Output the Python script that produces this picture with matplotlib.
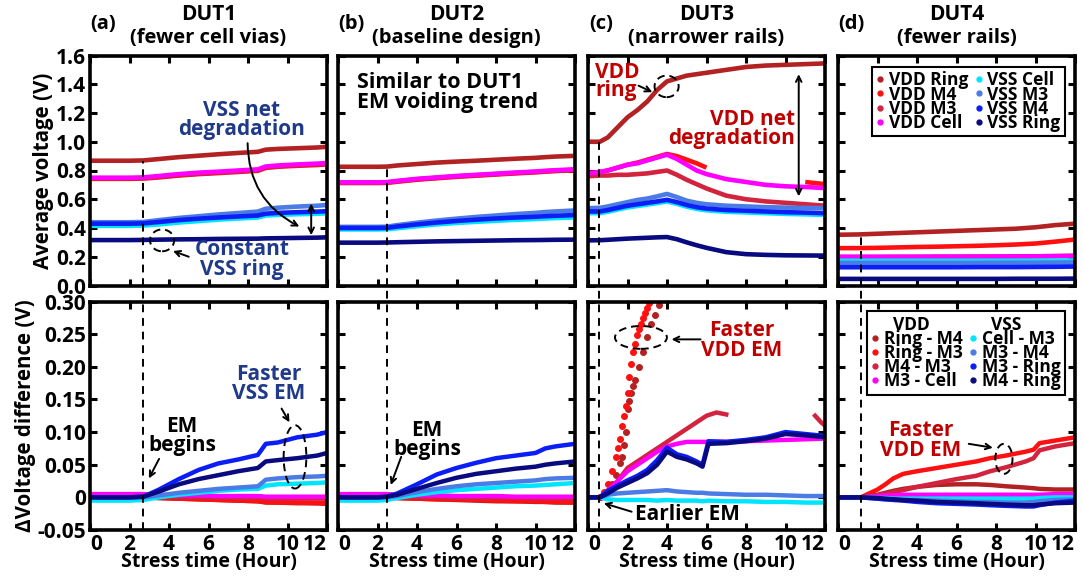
import numpy as np
import matplotlib
matplotlib.use("Agg")
import matplotlib.pyplot as plt
from matplotlib.patches import Ellipse
from matplotlib.lines import Line2D

plt.rcParams['font.family'] = ['Open Sans', 'DejaVu Sans']
plt.rcParams['font.weight'] = 'bold'
plt.rcParams['axes.labelweight'] = 'bold'

NaN = np.nan

# ---------------- labels / colours ----------------
avg_labels = ['VDD Ring', 'VDD M4', 'VDD M3', 'VDD Cell',
              'VSS Cell', 'VSS M3', 'VSS M4', 'VSS Ring']
diff_labels = ['Ring - M4', 'Ring - M3', 'M4 - M3', 'M3 - Cell',
               'Cell - M3', 'M3 - M4', 'M3 - Ring', 'M4 - Ring']
series_colors = ['#B22222', '#FF1010', '#D2233F', '#FF00FF',
                 '#00E5FF', '#4B7BE5', '#0A1EF5', '#0A0A80']

titles = ['DUT1', 'DUT2', 'DUT3', 'DUT4']
subtitles = ['(fewer cell vias)', '(baseline design)', '(narrower rails)', '(fewer rails)']
panel_tags = ['(a)', '(b)', '(c)', '(d)']
em_start = [2.7, 2.46, 0.58, 1.15]
em_top_level = [0.868, 0.826, 1.00, 0.353]

xticks = [0, 2, 4, 6, 8, 10, 12]
top_yticks = [0.0, 0.2, 0.4, 0.6, 0.8, 1.0, 1.2, 1.4, 1.6]
top_yticklabels = ['0.0', '0.2', '0.4', '0.6', '0.8', '1.0', '1.2', '1.4', '1.6']
bot_yticks = [-0.05, 0.0, 0.05, 0.10, 0.15, 0.20, 0.25, 0.30]
bot_yticklabels = ['-0.05', '0', '0.05', '0.10', '0.15', '0.20', '0.25', '0.30']

# ---------------- DUT1 ----------------
dut1_t = [0, 1, 2, 2.7, 3.5, 4.5, 5.5, 6.5, 7.5, 8.5, 8.9, 9.5, 10.5, 11.5, 12]
dut1_avg = {
    'VDD Ring': [0.868, 0.868, 0.868, 0.870, 0.880, 0.893, 0.903, 0.913, 0.922, 0.930, 0.945, 0.950, 0.955, 0.960, 0.965],
    'VDD M4':   [0.742, 0.742, 0.742, 0.744, 0.752, 0.765, 0.775, 0.782, 0.790, 0.798, 0.818, 0.826, 0.833, 0.838, 0.843],
    'VDD M3':   [0.745, 0.745, 0.745, 0.747, 0.756, 0.768, 0.778, 0.786, 0.794, 0.802, 0.822, 0.830, 0.837, 0.842, 0.847],
    'VDD Cell': [0.750, 0.750, 0.750, 0.752, 0.762, 0.775, 0.785, 0.792, 0.800, 0.808, 0.828, 0.835, 0.842, 0.848, 0.852],
    'VSS Cell': [0.415, 0.415, 0.415, 0.417, 0.425, 0.438, 0.448, 0.458, 0.466, 0.473, 0.487, 0.491, 0.496, 0.499, 0.502],
    'VSS M3':   [0.440, 0.440, 0.440, 0.442, 0.455, 0.470, 0.482, 0.494, 0.504, 0.514, 0.534, 0.541, 0.549, 0.555, 0.560],
    'VSS M4':   [0.430, 0.430, 0.430, 0.432, 0.442, 0.455, 0.465, 0.473, 0.480, 0.487, 0.500, 0.505, 0.510, 0.514, 0.517],
    'VSS Ring': [0.316, 0.316, 0.316, 0.317, 0.319, 0.321, 0.322, 0.324, 0.325, 0.326, 0.328, 0.329, 0.331, 0.333, 0.335],
}
dut1_diff = {
    'Ring - M4': [0.000, 0.000, 0.000, 0.000, -0.001, -0.002, -0.003, -0.004, -0.005, -0.006, -0.008, -0.008, -0.009, -0.009, -0.010],
    'Ring - M3': [0.000, 0.000, 0.000, 0.000, -0.001, -0.002, -0.003, -0.004, -0.005, -0.006, -0.007, -0.008, -0.008, -0.009, -0.009],
    'M4 - M3':   [0.002, 0.002, 0.002, 0.002, 0.001, 0.000, 0.000, -0.001, -0.001, -0.001, -0.002, -0.002, -0.002, -0.002, -0.002],
    'M3 - Cell': [0.005, 0.005, 0.005, 0.005, 0.004, 0.003, 0.003, 0.002, 0.002, 0.002, 0.001, 0.001, 0.001, 0.001, 0.001],
    'Cell - M3': [-0.005, -0.005, -0.005, -0.004, 0.000, 0.004, 0.007, 0.010, 0.012, 0.013, 0.018, 0.020, 0.021, 0.022, 0.023],
    'M3 - M4':   [0.000, 0.000, 0.000, 0.000, 0.003, 0.007, 0.010, 0.013, 0.015, 0.017, 0.027, 0.029, 0.031, 0.032, 0.033],
    'M3 - Ring': [0.000, 0.000, 0.000, 0.001, 0.012, 0.028, 0.042, 0.052, 0.058, 0.065, 0.082, 0.084, 0.092, 0.096, 0.100],
    'M4 - Ring': [0.000, 0.000, 0.000, 0.001, 0.009, 0.020, 0.028, 0.034, 0.040, 0.045, 0.055, 0.057, 0.060, 0.064, 0.068],
}

# ---------------- DUT2 ----------------
dut2_t = [0, 1, 2, 2.46, 3, 4, 5, 6, 7, 8, 9, 10, 10.5, 11, 12]
dut2_avg = {
    'VDD Ring': [0.826, 0.826, 0.826, 0.827, 0.835, 0.845, 0.855, 0.862, 0.868, 0.875, 0.882, 0.888, 0.893, 0.897, 0.902],
    'VDD M4':   [0.713, 0.713, 0.713, 0.714, 0.722, 0.736, 0.746, 0.756, 0.764, 0.772, 0.780, 0.787, 0.792, 0.796, 0.802],
    'VDD M3':   [0.715, 0.715, 0.715, 0.716, 0.725, 0.739, 0.749, 0.759, 0.767, 0.775, 0.783, 0.790, 0.795, 0.799, 0.805],
    'VDD Cell': [0.718, 0.718, 0.718, 0.719, 0.728, 0.742, 0.752, 0.762, 0.770, 0.778, 0.786, 0.793, 0.798, 0.802, 0.808],
    'VSS Cell': [0.390, 0.390, 0.390, 0.391, 0.398, 0.412, 0.425, 0.435, 0.443, 0.450, 0.457, 0.462, 0.466, 0.469, 0.473],
    'VSS M3':   [0.408, 0.408, 0.408, 0.409, 0.420, 0.437, 0.452, 0.465, 0.477, 0.487, 0.497, 0.505, 0.511, 0.515, 0.522],
    'VSS M4':   [0.400, 0.400, 0.400, 0.401, 0.410, 0.425, 0.438, 0.449, 0.458, 0.466, 0.473, 0.478, 0.482, 0.485, 0.490],
    'VSS Ring': [0.298, 0.298, 0.298, 0.299, 0.301, 0.304, 0.307, 0.309, 0.311, 0.313, 0.315, 0.316, 0.317, 0.318, 0.319],
}
dut2_diff = {
    'Ring - M4': [0.000, 0.000, 0.000, 0.000, -0.001, -0.002, -0.003, -0.004, -0.005, -0.006, -0.006, -0.007, -0.007, -0.008, -0.008],
    'Ring - M3': [0.000, 0.000, 0.000, 0.000, -0.001, -0.002, -0.003, -0.003, -0.004, -0.005, -0.006, -0.006, -0.007, -0.007, -0.008],
    'M4 - M3':   [0.002, 0.002, 0.002, 0.002, 0.001, 0.000, 0.000, -0.001, -0.001, -0.001, -0.001, -0.002, -0.002, -0.002, -0.002],
    'M3 - Cell': [0.005, 0.005, 0.005, 0.005, 0.004, 0.003, 0.003, 0.002, 0.002, 0.002, 0.001, 0.001, 0.001, 0.001, 0.001],
    'Cell - M3': [-0.005, -0.005, -0.005, -0.004, -0.001, 0.004, 0.008, 0.011, 0.013, 0.015, 0.017, 0.018, 0.019, 0.020, 0.022],
    'M3 - M4':   [0.000, 0.000, 0.000, 0.000, 0.002, 0.008, 0.013, 0.017, 0.020, 0.022, 0.024, 0.026, 0.028, 0.029, 0.030],
    'M3 - Ring': [0.000, 0.000, 0.000, 0.001, 0.006, 0.020, 0.035, 0.045, 0.053, 0.060, 0.064, 0.068, 0.075, 0.078, 0.082],
    'M4 - Ring': [0.000, 0.000, 0.000, 0.001, 0.004, 0.013, 0.022, 0.030, 0.036, 0.040, 0.044, 0.047, 0.050, 0.052, 0.055],
}

# ---------------- DUT3 ----------------
dut3_t = [0, 0.6, 1.0, 1.5, 2.0, 2.5, 3.0, 3.5, 4.0, 4.5, 5.0, 5.5, 6.0, 7.0, 8.0, 9.0, 10.0, 11.0, 12.0]
dut3_avg = {
    'VDD Ring': [1.00, 1.00, 1.03, 1.10, 1.17, 1.22, 1.28, 1.36, 1.42, 1.44, 1.46, 1.47, 1.48, 1.50, 1.52, 1.53, 1.535, 1.54, 1.545],
    'VDD M4':   [0.780, 0.790, 0.800, 0.820, 0.840, 0.855, 0.875, 0.895, 0.915, 0.900, 0.875, 0.850, 0.820, NaN, NaN, NaN, NaN, 0.720, 0.705],
    'VDD M3':   [0.760, 0.765, 0.765, 0.770, 0.770, 0.775, 0.780, 0.790, 0.800, 0.770, 0.735, 0.705, 0.675, 0.625, 0.600, 0.585, 0.575, 0.565, 0.555],
    'VDD Cell': [0.780, 0.790, 0.800, 0.820, 0.840, 0.850, 0.870, 0.890, 0.910, 0.880, 0.840, 0.800, 0.775, 0.740, 0.720, 0.700, 0.690, 0.685, 0.678],
    'VSS Cell': [0.503, 0.503, 0.513, 0.528, 0.543, 0.553, 0.563, 0.573, 0.584, 0.568, 0.548, 0.533, 0.523, 0.513, 0.508, 0.503, 0.498, 0.495, 0.491],
    'VSS M3':   [0.538, 0.540, 0.550, 0.565, 0.580, 0.595, 0.605, 0.620, 0.637, 0.615, 0.590, 0.575, 0.565, 0.555, 0.550, 0.545, 0.542, 0.540, 0.538],
    'VSS M4':   [0.515, 0.515, 0.525, 0.540, 0.555, 0.565, 0.575, 0.585, 0.596, 0.580, 0.560, 0.545, 0.535, 0.525, 0.520, 0.515, 0.510, 0.507, 0.503],
    'VSS Ring': [0.314, 0.315, 0.318, 0.322, 0.326, 0.329, 0.332, 0.335, 0.337, 0.322, 0.300, 0.280, 0.262, 0.232, 0.218, 0.213, 0.210, 0.209, 0.208],
}
dut3_dt = [0, 0.6, 1.0, 1.5, 2.0, 2.5, 3.0, 3.5, 4.0, 4.5, 5.0, 5.5, 5.8, 6.1, 7.0, 8.0, 9.0, 10.0, 11.0, 12.0]
dut3_diff = {
    'M3 - Cell': [0, 0, 0.010, 0.025, 0.040, 0.050, 0.060, 0.070, 0.078, 0.082, 0.085, 0.085, 0.085, 0.085, 0.085, 0.086, 0.087, 0.088, 0.089, 0.090],
    'Cell - M3': [0, 0, -0.003, -0.004, -0.004, -0.004, -0.004, -0.005, -0.004, -0.005, -0.005, -0.005, -0.006, -0.005, -0.006, -0.006, -0.007, -0.007, -0.008, -0.008],
    'M3 - M4':   [0, 0, 0.004, 0.006, 0.007, 0.008, 0.009, 0.010, 0.011, 0.009, 0.008, 0.007, 0.007, 0.006, 0.005, 0.004, 0.004, 0.003, 0.002, 0.002],
    'M3 - Ring': [0, 0, 0.010, 0.018, 0.026, 0.033, 0.042, 0.057, 0.076, 0.066, 0.062, 0.055, 0.050, 0.086, 0.085, 0.088, 0.092, 0.100, 0.097, 0.094],
    'M4 - Ring': [0, 0, 0.006, 0.015, 0.022, 0.029, 0.037, 0.050, 0.070, 0.062, 0.058, 0.052, 0.047, 0.082, 0.083, 0.086, 0.090, 0.097, 0.095, 0.092],
}
dut3_ring_m4_t = [0.6, 1.0, 1.2, 1.4, 1.6, 1.7, 1.8, 1.9, 2.0, 2.1, 2.2, 2.3, 2.4, 2.6, 2.8, 3.0, 3.2, 3.4, 3.6, 3.8]
dut3_ring_m4 = [0.000, 0.010, 0.020, 0.035, 0.052, 0.062, 0.080, 0.100, 0.135, 0.148, 0.160, 0.170, 0.180, 0.200, 0.222, 0.245, 0.265, 0.280, 0.295, 0.310]
dut3_ring_m3_t = [0.6, 0.8, 1.0, 1.2, 1.4, 1.5, 1.6, 1.7, 1.8, 1.9, 2.0, 2.1, 2.2, 2.3, 2.4, 2.5, 2.6, 2.7, 2.8, 2.9, 3.0, 3.1, 3.2]
dut3_ring_m3 = [0.000, 0.008, 0.020, 0.040, 0.062, 0.075, 0.090, 0.110, 0.125, 0.140, 0.160, 0.185, 0.205, 0.222, 0.235, 0.248, 0.258, 0.266, 0.274, 0.282, 0.290, 0.297, 0.304]
dut3_m4_m3_t = [0.6, 1.0, 1.5, 2.0, 2.5, 3.0, 3.5, 4.0, 4.5, 5.0, 5.5, 6.0, 6.5, 7.0, NaN, 11.5, 11.8, 12.0]
dut3_m4_m3 = [0.000, 0.010, 0.025, 0.045, 0.055, 0.065, 0.075, 0.085, 0.095, 0.105, 0.115, 0.125, 0.130, 0.127, NaN, 0.125, 0.115, 0.110]

# ---------------- DUT4 ----------------
dut4_t = [0, 1, 2, 3, 4, 5, 6, 7, 8, 9, 10, 11, 12]
dut4_avg = {
    'VDD Ring': [0.353, 0.355, 0.360, 0.365, 0.370, 0.375, 0.380, 0.385, 0.390, 0.395, 0.405, 0.420, 0.430],
    'VDD M4':   [0.260, 0.260, 0.262, 0.265, 0.268, 0.270, 0.273, 0.276, 0.280, 0.285, 0.292, 0.305, 0.320],
    'VDD M3':   [0.198, 0.198, 0.198, 0.199, 0.199, 0.200, 0.200, 0.201, 0.201, 0.202, 0.203, 0.205, 0.207],
    'VDD Cell': [0.200, 0.200, 0.200, 0.200, 0.200, 0.201, 0.201, 0.201, 0.202, 0.202, 0.203, 0.204, 0.205],
    'VSS Cell': [0.172, 0.172, 0.172, 0.172, 0.172, 0.172, 0.172, 0.172, 0.172, 0.172, 0.172, 0.173, 0.174],
    'VSS M3':   [0.157, 0.157, 0.157, 0.157, 0.157, 0.157, 0.157, 0.157, 0.158, 0.158, 0.158, 0.159, 0.160],
    'VSS M4':   [0.127, 0.127, 0.127, 0.127, 0.127, 0.127, 0.127, 0.128, 0.128, 0.128, 0.129, 0.130, 0.132],
    'VSS Ring': [0.046, 0.046, 0.046, 0.046, 0.046, 0.046, 0.046, 0.046, 0.046, 0.047, 0.047, 0.047, 0.048],
}
dut4_dt = [0, 1.15, 2.0, 2.4, 2.8, 3.3, 4, 5, 6, 7, 7.7, 8.5, 9.5, 9.9, 10.2, 11, 12]
dut4_diff = {
    'Ring - M4': [0, 0, 0.004, 0.007, 0.010, 0.013, 0.016, 0.019, 0.020, 0.020, 0.019, 0.017, 0.015, 0.014, 0.013, 0.012, 0.012],
    'Ring - M3': [0, 0, 0.012, 0.020, 0.029, 0.036, 0.040, 0.045, 0.050, 0.055, 0.060, 0.064, 0.070, 0.073, 0.083, 0.087, 0.092],
    'M4 - M3':   [0, 0, 0.003, 0.005, 0.008, 0.011, 0.016, 0.022, 0.028, 0.033, 0.040, 0.046, 0.055, 0.060, 0.072, 0.078, 0.083],
    'M3 - Cell': [0, 0, 0.002, 0.003, 0.003, 0.004, 0.004, 0.004, 0.004, 0.004, 0.004, 0.004, 0.004, 0.004, 0.004, 0.005, 0.005],
    'Cell - M3': [0, 0, -0.001, -0.001, -0.002, -0.002, -0.002, -0.002, -0.002, -0.002, -0.002, -0.002, -0.002, -0.002, -0.001, 0.000, 0.000],
    'M3 - M4':   [0, 0, -0.002, -0.003, -0.003, -0.004, -0.004, -0.005, -0.006, -0.007, -0.007, -0.008, -0.008, -0.007, -0.006, -0.004, -0.003],
    'M3 - Ring': [0, 0, -0.002, -0.003, -0.004, -0.005, -0.007, -0.009, -0.010, -0.011, -0.012, -0.013, -0.014, -0.014, -0.012, -0.008, -0.005],
    'M4 - Ring': [0, 0, -0.001, -0.002, -0.003, -0.004, -0.005, -0.007, -0.008, -0.009, -0.010, -0.011, -0.012, -0.012, -0.011, -0.009, -0.008],
}

# ---------------- figure ----------------
W, H = 1083, 579
fig = plt.figure(figsize=(W / 100, H / 100), dpi=100)
lefts_px = [90, 338, 588, 838]
width_px = 237
top_axes, bot_axes = [], []
for lp in lefts_px:
    top_axes.append(fig.add_axes([lp / W, 1 - 285.5 / H, width_px / W, 230 / H]))
    bot_axes.append(fig.add_axes([lp / W, 1 - 530 / H, width_px / W, 228.5 / H]))

TICK_FS = 15
TITLE_FS = 15
SUB_FS = 14.5
XLAB_FS = 14
YLAB_FS = 14.8
ANN_FS = 15
NAVY_TXT = '#1F3A88'
RED_TXT = '#C00000'

def style_axis(ax, ylim, yticks, ylabels, show_x, show_y):
    ax.set_xlim(0, 12)
    ax.set_ylim(*ylim)
    ax.set_xticks(xticks)
    ax.set_yticks(yticks)
    if show_x:
        ax.set_xticklabels([str(v) for v in xticks], fontsize=TICK_FS, fontweight='bold')
        labs = ax.get_xticklabels()
        labs[0].set_ha('left')
        labs[-1].set_ha('right')
    else:
        ax.set_xticklabels([])
    if show_y:
        ax.set_yticklabels(ylabels, fontsize=TICK_FS, fontweight='bold')
    else:
        ax.set_yticklabels([])
    ax.tick_params(direction='in', length=5, width=2.2, top=True, right=True, pad=3)
    for s in ax.spines.values():
        s.set_linewidth(2.6)

avg_sets = [(dut1_t, dut1_avg), (dut2_t, dut2_avg), (dut3_t, dut3_avg), (dut4_t, dut4_avg)]
for i, ax in enumerate(top_axes):
    t, d = avg_sets[i]
    for lab, col in zip(avg_labels, series_colors):
        ax.plot(t, d[lab], color=col, lw=3.3, solid_capstyle='butt')
    style_axis(ax, (0, 1.6), top_yticks, top_yticklabels, False, i == 0)
    ax.axvline(em_start[i], ymin=0, ymax=em_top_level[i] / 1.6, color='black',
               ls=(0, (4, 3)), lw=1.4, zorder=5)
    ax.text(0.5, 1.0 + 41 / 230, titles[i], transform=ax.transAxes, ha='center',
            va='center', fontsize=TITLE_FS, fontweight='bold')
    ax.text(0.5, 1.0 + 17 / 230, subtitles[i], transform=ax.transAxes, ha='center',
            va='center', fontsize=SUB_FS, fontweight='bold')
    ax.text(0.055, 1.0 + 31 / 230, panel_tags[i], transform=ax.transAxes, ha='center',
            va='center', fontsize=SUB_FS, fontweight='bold')

diff_sets = [(dut1_t, dut1_diff), (dut2_t, dut2_diff), (dut3_dt, dut3_diff), (dut4_dt, dut4_diff)]
for i, ax in enumerate(bot_axes):
    t, d = diff_sets[i]
    for lab, col in zip(diff_labels, series_colors):
        if i == 2 and lab == 'Ring - M4':
            ax.plot(dut3_ring_m4_t, dut3_ring_m4, ls='none', marker='o', ms=4, color=col)
        elif i == 2 and lab == 'Ring - M3':
            ax.plot(dut3_ring_m3_t, dut3_ring_m3, ls='none', marker='o', ms=4, color=col)
        elif i == 2 and lab == 'M4 - M3':
            ax.plot(dut3_m4_m3_t, dut3_m4_m3, color=col, lw=3.2)
        else:
            ax.plot(t, d[lab], color=col, lw=3.2, solid_capstyle='butt')
    style_axis(ax, (-0.05, 0.30), bot_yticks, bot_yticklabels, True, i == 0)
    ax.axvline(em_start[i], ymin=0, ymax=1 + 16 / 228.5, color='black',
               ls=(0, (4, 3)), lw=1.4, clip_on=False, zorder=5)
    ax.set_xlabel('Stress time (Hour)', fontsize=XLAB_FS, fontweight='bold', labelpad=-2)

top_axes[0].set_ylabel('Average voltage (V)', fontsize=YLAB_FS, fontweight='bold', labelpad=1)
bot_axes[0].set_ylabel('\u0394Voltage difference (V)', fontsize=YLAB_FS, fontweight='bold', labelpad=1)

arrow_kw = dict(arrowstyle='->', color='black', lw=1.4, shrinkA=0, shrinkB=0)
ell_kw = dict(fill=False, ls=(0, (4, 2.5)), lw=1.4, edgecolor='black', zorder=6)

# ---- panel (a) annotations ----
ax = top_axes[0]
ax.text(7.65, 1.15, 'VSS net\ndegradation', color=NAVY_TXT, fontsize=ANN_FS, fontweight='bold',
        ha='center', va='center', linespacing=0.9)
ax.annotate('', xy=(10.6, 0.41), xytext=(7.98, 0.99),
            arrowprops=dict(arrow_kw, connectionstyle='arc3,rad=0.3'))
ax.annotate('', xy=(11.2, 0.35), xytext=(11.2, 0.57),
            arrowprops=dict(arrowstyle='<->', color='black', lw=1.4, shrinkA=0, shrinkB=0))
ax.add_patch(Ellipse((3.65, 0.314), 1.22, 0.152, **ell_kw))
ax.annotate('', xy=(4.2, 0.24), xytext=(5.0, 0.2), arrowprops=arrow_kw)
ax.text(7.7, 0.18, 'Constant\nVSS ring', color=NAVY_TXT, fontsize=ANN_FS, fontweight='bold',
        ha='center', va='center', linespacing=0.9)

ax = bot_axes[0]
ax.text(4.65, 0.094, 'EM\nbegins', color='black', fontsize=ANN_FS, fontweight='bold',
        ha='center', va='center', linespacing=0.9)
ax.annotate('', xy=(2.98, 0.029), xytext=(3.5, 0.059), arrowprops=arrow_kw)
ax.text(9.05, 0.174, 'Faster\nVSS EM', color=NAVY_TXT, fontsize=ANN_FS, fontweight='bold',
        ha='center', va='center', linespacing=0.9)
ax.annotate('', xy=(10.1, 0.115), xytext=(9.7, 0.136), arrowprops=arrow_kw)
ax.add_patch(Ellipse((10.38, 0.062), 1.15, 0.097, **ell_kw))

# ---- panel (b) annotations ----
ax = top_axes[1]
ax.text(0.95, 1.34, 'Similar to DUT1\nEM voiding trend', color='black', fontsize=15.5,
        fontweight='bold', ha='left', va='center', linespacing=0.95)
ax = bot_axes[1]
ax.text(4.5, 0.088, 'EM\nbegins', color='black', fontsize=ANN_FS, fontweight='bold',
        ha='center', va='center', linespacing=0.9)
ax.annotate('', xy=(2.67, 0.019), xytext=(3.2, 0.062), arrowprops=arrow_kw)

# ---- panel (c) annotations ----
ax = top_axes[2]
ax.text(0.37, 1.42, 'VDD\nring', color=RED_TXT, fontsize=ANN_FS, fontweight='bold',
        ha='left', va='center', linespacing=0.8)
ax.annotate('', xy=(3.26, 1.345), xytext=(2.56, 1.39), arrowprops=arrow_kw)
ax.add_patch(Ellipse((3.98, 1.385), 1.22, 0.15, **ell_kw))
ax.text(10.5, 1.09, 'VDD net\ndegradation', color=RED_TXT, fontsize=ANN_FS, fontweight='bold',
        ha='right', va='center', linespacing=0.9)
ax.annotate('', xy=(10.67, 0.62), xytext=(10.67, 1.47),
            arrowprops=dict(arrowstyle='<->', color='black', lw=1.4, shrinkA=0, shrinkB=0))

ax = bot_axes[2]
ax.text(7.8, 0.240, 'Faster\nVDD EM', color=RED_TXT, fontsize=ANN_FS, fontweight='bold',
        ha='center', va='center', linespacing=0.9)
ax.annotate('', xy=(4.23, 0.242), xytext=(5.7, 0.242), arrowprops=arrow_kw)
ax.add_patch(Ellipse((2.68, 0.245), 2.63, 0.035, **ell_kw))
ax.text(2.39, -0.026, 'Earlier EM', color='black', fontsize=ANN_FS, fontweight='bold',
        ha='left', va='center')
ax.annotate('', xy=(0.8, -0.009), xytext=(2.21, -0.022), arrowprops=arrow_kw)

# ---- panel (d) annotations ----
ax = bot_axes[3]
ax.text(4.18, 0.087, 'Faster\nVDD EM', color=RED_TXT, fontsize=ANN_FS, fontweight='bold',
        ha='center', va='center', linespacing=0.9)
ax.annotate('', xy=(7.84, 0.076), xytext=(6.62, 0.082), arrowprops=arrow_kw)
ax.add_patch(Ellipse((8.4, 0.059), 0.87, 0.046, **ell_kw))

# ---- legends ----
def dot(col):
    return Line2D([], [], ls='none', marker='o', ms=3.5, color=col)

leg_kw = dict(ncol=2, frameon=True, fancybox=False, framealpha=1, edgecolor='black',
              handlelength=0.5, handletextpad=0.25, columnspacing=0.35, borderpad=0.25,
              labelspacing=-0.22, borderaxespad=0.0, prop={'size': 12.5, 'weight': 'bold'})
lg = top_axes[3].legend([dot(c) for c in series_colors], avg_labels, loc='upper right',
                        bbox_to_anchor=(0.957, 0.95), **leg_kw)
lg.get_frame().set_linewidth(1.5)

blank = Line2D([], [], ls='none')
handles = [blank] + [dot(c) for c in series_colors[:4]] + [blank] + [dot(c) for c in series_colors[4:]]
labels = ['  VDD'] + diff_labels[:4] + ['  VSS'] + diff_labels[4:]
lg2 = bot_axes[3].legend(handles, labels, loc='upper right', bbox_to_anchor=(0.957, 0.957), **leg_kw)
lg2.get_frame().set_linewidth(1.5)

fig.savefig('out.png', dpi=100)
